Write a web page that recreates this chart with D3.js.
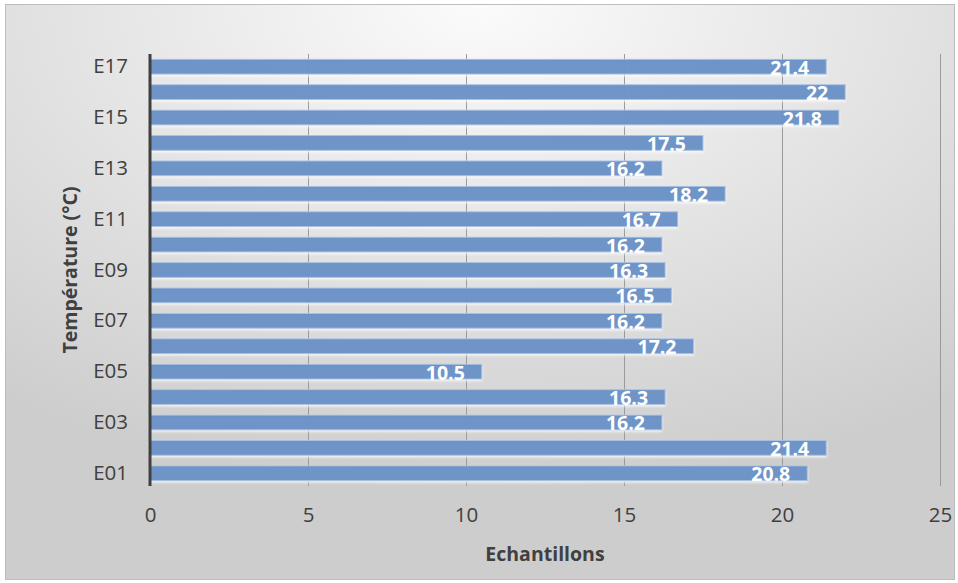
<!DOCTYPE html>
<html lang="fr">
<head>
<meta charset="utf-8">
<title>Température par échantillon</title>
<script src="https://d3js.org/d3.v7.min.js"></script>
<style>
  body { margin: 0; background: #fff; }
  svg text { font-family: "Open Sans", "Liberation Sans", Arial, sans-serif; }
</style>
</head>
<body>
<div id="chart"></div>
<script>
// données
var categories = ['E01','E02','E03','E04','E05','E06','E07','E08','E09','E10','E11','E12','E13','E14','E15','E16','E17'];
var temperatures = [20.8, 21.4, 16.2, 16.3, 10.5, 17.2, 16.2, 16.5, 16.3, 16.2, 16.7, 18.2, 16.2, 17.5, 21.8, 22, 21.4];
var xTicks = [0, 5, 10, 15, 20, 25];
var xTitle = 'Echantillons';
var yTitle = 'Température (°C)';

var w = 958, h = 583;
var margin = {top: 54, right: 18, bottom: 97, left: 150};
var iw = 940 - margin.left;
var ih = 486 - margin.top;
var fontFam = '"Open Sans", "Liberation Sans", Arial, sans-serif';

var svg = d3.select('#chart').append('svg').attr('width', w).attr('height', h);

var defs = svg.append('defs');
var grad = defs.append('radialGradient').attr('id', 'bg')
  .attr('cx', '50%').attr('cy', '0%').attr('r', '85%')
  .attr('gradientUnits', 'objectBoundingBox');
grad.append('stop').attr('offset', '0%').attr('stop-color', '#fbfbfb');
grad.append('stop').attr('offset', '100%').attr('stop-color', '#cdcdcd');

var shadow = defs.append('filter').attr('id', 'shadow')
  .attr('x', '-5%').attr('y', '-30%').attr('width', '110%').attr('height', '170%');
shadow.append('feDropShadow').attr('dx', 0).attr('dy', 1.5).attr('stdDeviation', 1)
  .attr('flood-color', '#ffffff').attr('flood-opacity', 0.8);

// fond + cadre
svg.append('rect').attr('x', 5.5).attr('y', 4.5).attr('width', 949).attr('height', 575)
  .attr('fill', 'url(#bg)').attr('stroke', '#bdbdbd').attr('stroke-width', 1);

var g = svg.append('g').attr('transform', 'translate(' + margin.left + ',' + margin.top + ')');

var x = d3.scaleLinear().domain([0, 25]).range([0, iw]);
var y = d3.scaleBand().domain(categories.slice().reverse()).range([0, ih]).paddingInner(0.42).paddingOuter(0.21);

// grille verticale
g.selectAll('.grid').data(xTicks.slice(1)).enter().append('line')
  .attr('class', 'grid')
  .attr('x1', d => x(d) + 0.5).attr('x2', d => x(d) + 0.5)
  .attr('y1', 0).attr('y2', ih)
  .attr('stroke', '#9a9a9a').attr('stroke-width', 1);

// barres
g.selectAll('.bar').data(temperatures).enter().append('rect')
  .attr('class', 'bar')
  .attr('x', 0)
  .attr('y', (d, i) => y(categories[i]))
  .attr('width', d => x(d))
  .attr('height', y.bandwidth())
  .attr('fill', '#5b8ac4').attr('fill-opacity', 0.93)
  .attr('stroke', '#a9c1e3').attr('stroke-width', 1)
  .attr('filter', 'url(#shadow)');

// étiquettes de valeurs
g.selectAll('.lbl').data(temperatures).enter().append('text')
  .attr('class', 'lbl')
  .attr('x', d => x(d) - 17)
  .attr('y', (d, i) => y(categories[i]) + y.bandwidth() / 2 + 8)
  .attr('text-anchor', 'end')
  .attr('fill', '#ffffff')
  .attr('font-weight', 'bold')
  .attr('font-size', 19.5)
  .text(d => d);

// axe Y (trait + étiquettes impaires)
g.append('line').attr('x1', 0).attr('x2', 0).attr('y1', 0).attr('y2', ih)
  .attr('stroke', '#404040').attr('stroke-width', 3);

var yAxis = d3.axisLeft(y).tickSize(0).tickPadding(22)
  .tickValues(categories.filter((c, i) => i % 2 === 0));
var ya = g.append('g').call(yAxis);
ya.select('.domain').remove();
ya.selectAll('text').attr('fill', '#404040')
  .style('font-family', fontFam).style('font-size', '20.5px');

// axe X
var xAxis = d3.axisBottom(x).tickValues(xTicks).tickSize(0).tickPadding(21);
var xa = g.append('g').attr('transform', 'translate(0,' + ih + ')').call(xAxis);
xa.select('.domain').remove();
xa.selectAll('text').attr('fill', '#404040')
  .style('font-family', fontFam).style('font-size', '20.5px');

// titres
svg.append('text').attr('x', margin.left + iw / 2).attr('y', 561)
  .attr('text-anchor', 'middle').attr('font-weight', 'bold').attr('font-size', 19.5)
  .attr('fill', '#404040').text(xTitle);

svg.append('text')
  .attr('transform', 'translate(77,' + (margin.top + ih / 2) + ') rotate(-90)')
  .attr('text-anchor', 'middle').attr('font-weight', 'bold').attr('font-size', 19.5)
  .attr('fill', '#404040').text(yTitle);
</script>
</body>
</html>
